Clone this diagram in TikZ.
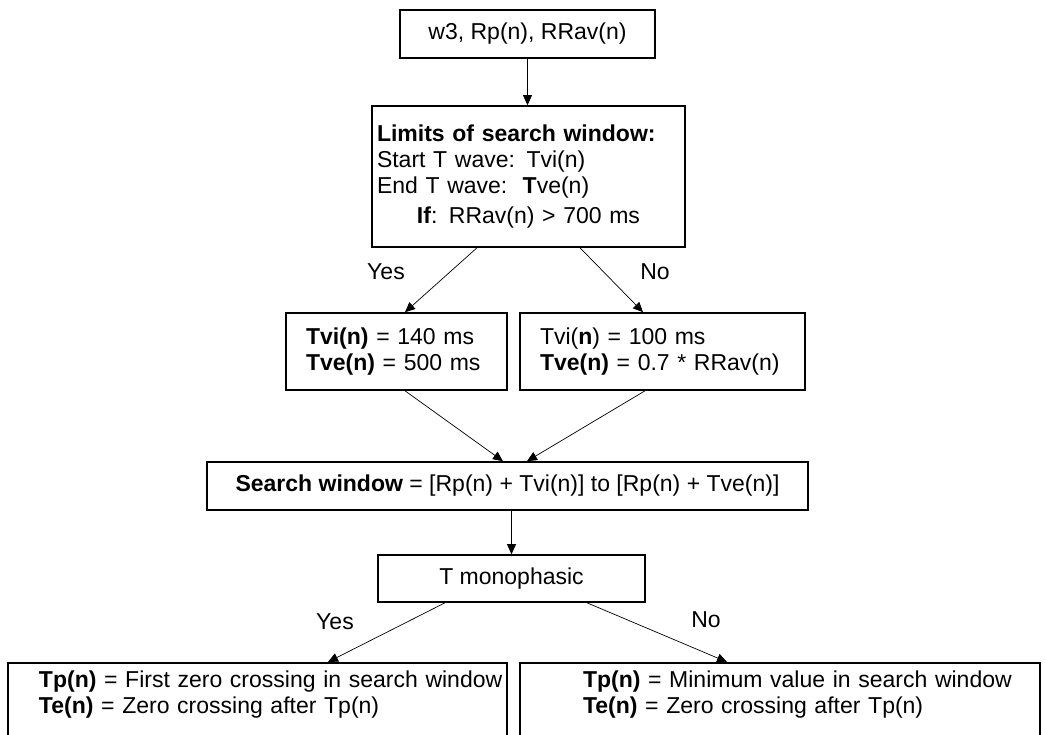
\documentclass[tikz,border=0pt]{standalone}
\usepackage{fontspec}
\setmainfont{Liberation Sans}
\usetikzlibrary{calc,arrows.meta}

\begin{document}
\begin{tikzpicture}[x=1pt,y=-1pt,
  box/.style={draw=black,line width=1.6pt,inner sep=0pt,font=\fontsize{23}{26}\selectfont},
  arr/.style={-{Triangle[length=10pt,width=9pt]},line width=0.7pt},
  lbl/.style={font=\fontsize{23}{26}\selectfont}]

\useasboundingbox (0,0) rectangle (1045,735);
\clip (0,0) rectangle (1045,735);

\node (inp) at (527.5,34) [box,minimum width=255pt,minimum height=48pt] {w3, Rp(n), RRav(n)};

\node (lim) at (528.5,176.5) [box,minimum width=313pt,minimum height=141pt,text width=303pt,inner xsep=5pt,align=left]
  {\textbf{Limits of search window:}\\ Start T wave: Tvi(n)\\ End T wave:\ \ \textbf{T}ve(n)\\[4pt]
   \makebox[303pt]{\textbf{If}: RRav(n) > 700 ms}};

\node (yes) at (396.5,351.5) [box,minimum width=221pt,minimum height=77pt,text width=181pt,inner xsep=20pt,align=left]
  {\textbf{Tvi(n)} = 140 ms\\ \textbf{Tve(n)} = 500 ms};
\node (no) at (662.5,351.5) [box,minimum width=285pt,minimum height=77pt,text width=245pt,inner xsep=20pt,align=left]
  {Tvi(\textbf{n}) = 100 ms\\ \textbf{Tve(n)} = 0.7 * RRav(n)};

\node (win) at (507.5,486) [box,minimum width=601pt,minimum height=48pt]
  {\textbf{Search window} = [Rp(n) + Tvi(n)] to [Rp(n) + Tve(n)]};

\node (mono) at (511.5,578.5) [box,minimum width=267pt,minimum height=47pt] {T monophasic};

% bottom boxes run past the lower edge
\node (first) at (257.5,662) [box,anchor=north,text width=491pt,inner xsep=4pt,inner ysep=8pt,align=left,text depth=90pt]
  {\hspace*{27pt}\mbox{\textbf{Tp(n)} = First zero crossing in search window}\\
   \hspace*{27pt}\mbox{\textbf{Te(n)} = Zero crossing after Tp(n)}};
\node (minv) at (780,662) [box,anchor=north,text width=512pt,inner xsep=4pt,inner ysep=8pt,align=left,text depth=90pt]
  {\hspace*{59pt}\mbox{\textbf{Tp(n)} = Minimum value in search window}\\
   \hspace*{59pt}\mbox{\textbf{Te(n)} = Zero crossing after Tp(n)}};

\draw[arr] (inp.south) -- (inp.south |- lim.north);
\draw[arr] ([xshift=-51.5pt]lim.south) -- ([xshift=8.5pt]yes.north);
\draw[arr] ([xshift=51.5pt]lim.south) -- ([xshift=-19.5pt]no.north);
\draw[arr] ([xshift=8.5pt]yes.south) -- ([xshift=-4.5pt]win.north);
\draw[arr] ([xshift=-17.5pt]no.south) -- ([xshift=19.5pt]win.north);
\draw[arr] (mono.north |- win.south) -- (mono.north);
\draw[arr] ([xshift=-66.5pt]mono.south) -- ([xshift=70.5pt]first.north);
\draw[arr] ([xshift=75.5pt]mono.south) -- ([xshift=-53pt]minv.north);

\node (yes1) at (386,272) [lbl] {Yes};
\node (no1) at (655,272) [lbl] {No};
\node (yes2) at (335,622) [lbl] {Yes};
\node (no2) at (706,620) [lbl] {No};

\end{tikzpicture}
\end{document}
